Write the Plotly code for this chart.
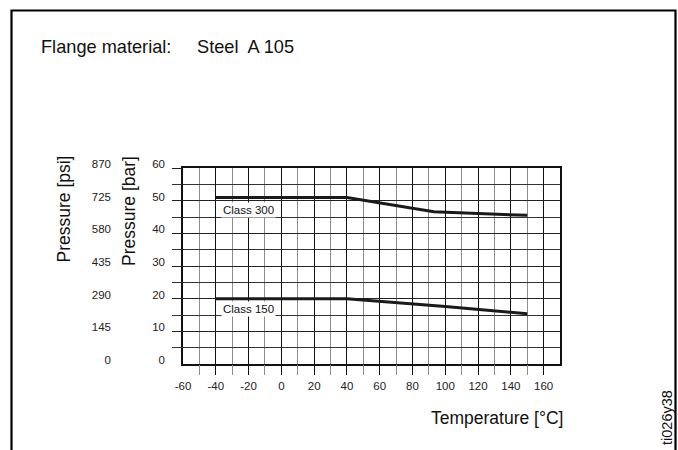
import plotly.graph_objects as go

# Pressure-temperature rating curves for flange classes
temp_class300 = [-40, 40, 93, 150]
bar_class300 = [51, 51, 46.6, 45.5]
temp_class150 = [-40, 40, 100, 150]
bar_class150 = [20, 20, 17.6, 15.4]

temp_labels = list(range(-60, 161, 20))
bar_ticks = list(range(0, 61, 10))
psi_ticks = list(range(0, 871, 145))

W, H = 678, 450
L, R, T, B = 183, 118, 168, 86
PW = W - L - R
PH = H - T - B
FONT = "Liberation Sans, Arial, sans-serif"
INK = "#1a1a1a"


def px(xp):
    return (xp - L) / PW


def py(yp):
    return (H - B - yp) / PH


fig = go.Figure()

fig.add_trace(go.Scatter(x=temp_class300, y=bar_class300, mode="lines",
                         line=dict(color=INK, width=3), hoverinfo="skip",
                         showlegend=False))
fig.add_trace(go.Scatter(x=temp_class150, y=bar_class150, mode="lines",
                         line=dict(color=INK, width=3), hoverinfo="skip",
                         showlegend=False))
# carriers for the overlay axes (tick marks and psi scale)
fig.add_trace(go.Scatter(x=[-60], y=[0], xaxis="x2", yaxis="y2", mode="markers",
                         marker=dict(opacity=0), hoverinfo="skip", showlegend=False))
fig.add_trace(go.Scatter(x=[-60], y=[0], xaxis="x", yaxis="y3", mode="markers",
                         marker=dict(opacity=0), hoverinfo="skip", showlegend=False))

tick_font = dict(family=FONT, size=11.5, color="#222")

fig.update_layout(
    width=W, height=H,
    margin=dict(l=L, r=R, t=T, b=B, pad=0),
    paper_bgcolor="white", plot_bgcolor="white",
    showlegend=False,
    xaxis=dict(
        range=[-60, 170], tickmode="array", tickvals=temp_labels,
        ticktext=[str(v) for v in temp_labels], ticks="",
        tickfont=tick_font, ticklabelstandoff=10,
        showgrid=True, gridcolor="#111", gridwidth=1.3,
        minor=dict(tickmode="array", tickvals=list(range(-50, 151, 20)),
                   showgrid=True, gridcolor="#8c8c8c", gridwidth=1.4, ticks=""),
        showline=True, mirror=True, linecolor="#111", linewidth=1.5,
        zeroline=False, fixedrange=True,
    ),
    yaxis=dict(
        range=[0, 60], tickmode="array", tickvals=bar_ticks,
        ticktext=[str(v) for v in bar_ticks], ticks="",
        tickfont=tick_font, ticklabelstandoff=14, ticklabelshift=-4,
        showgrid=True, gridcolor="#222", gridwidth=1.2,
        minor=dict(tickmode="array", tickvals=list(range(5, 60, 10)),
                   showgrid=True, gridcolor="#333", gridwidth=1.2, ticks=""),
        showline=True, mirror=True, linecolor="#111", linewidth=1.5,
        zeroline=False, fixedrange=True,
    ),
    xaxis2=dict(
        range=[-60, 170], overlaying="x", anchor="y2", side="bottom",
        tickmode="array", tickvals=list(range(-40, 161, 20)),
        ticks="outside", ticklen=10, tickwidth=1.3, tickcolor="#111",
        minor=dict(tickmode="array", tickvals=list(range(-50, 151, 20)),
                   ticks="outside", ticklen=10, tickwidth=1.4, tickcolor="#8c8c8c",
                   showgrid=False),
        showticklabels=False, showgrid=False, showline=False, zeroline=False,
        fixedrange=True,
    ),
    yaxis2=dict(
        range=[0, 60], overlaying="y", anchor="x2", side="left",
        tickmode="array", tickvals=list(range(10, 61, 10)),
        ticks="outside", ticklen=10, tickwidth=1.2, tickcolor="#222",
        minor=dict(tickmode="array", tickvals=list(range(5, 60, 10)),
                   ticks="outside", ticklen=10, tickwidth=1.2, tickcolor="#333",
                   showgrid=False),
        showticklabels=False, showgrid=False, showline=False, zeroline=False,
        fixedrange=True,
    ),
    yaxis3=dict(
        range=[0, 870], overlaying="y", anchor="x", side="left",
        tickmode="array", tickvals=psi_ticks,
        ticktext=[str(v) for v in psi_ticks], ticks="",
        tickfont=tick_font, ticklabelstandoff=71, ticklabelshift=-4,
        showgrid=False, showline=False, zeroline=False, fixedrange=True,
    ),
)

text_font = dict(family=FONT, size=17.5, color="#111")
title_font = dict(family=FONT, size=18.2, color="#111")

annotations = [
    dict(text="Flange material:", x=px(39), y=py(47), xanchor="left", yanchor="middle",
         font=title_font),
    dict(text="Steel  A 105", x=px(195), y=py(47), xanchor="left", yanchor="middle",
         font=title_font),
    dict(text="Temperature [°C]", x=px(497), y=py(418), xanchor="center", yanchor="middle"),
    dict(text="Pressure [psi]", x=px(63), y=py(154), xanchor="center", yanchor="top",
         textangle=-90),
    dict(text="Pressure [bar]", x=px(129), y=py(154), xanchor="center", yanchor="top",
         textangle=-90),
    dict(text="ti026y38", x=px(667), y=py(418), xanchor="center", yanchor="middle",
         textangle=-90, font=dict(family=FONT, size=14.5, color="#111")),
]
for a in annotations:
    a.setdefault("font", text_font)
    fig.add_annotation(xref="paper", yref="paper", showarrow=False, **a)

# curve labels sitting just under each rating line
for label, lx, ly in [("Class 300", -37, 47.2), ("Class 150", -37, 16.7)]:
    fig.add_annotation(x=lx, y=ly, xref="x", yref="y", text=label, showarrow=False,
                       xanchor="left", yanchor="middle", bgcolor="white", borderpad=1,
                       font=dict(family=FONT, size=11.5, color="#111"))

# surrounding frame (open at the bottom)
fig.add_shape(type="path", xref="paper", yref="paper",
              path=f"M {px(11.5)} {py(460)} L {px(11.5)} {py(10.5)} "
                   f"L {px(675.5)} {py(10.5)} L {px(675.5)} {py(460)}",
              line=dict(color="black", width=2.2), layer="above")

fig.write_html("out.html")
